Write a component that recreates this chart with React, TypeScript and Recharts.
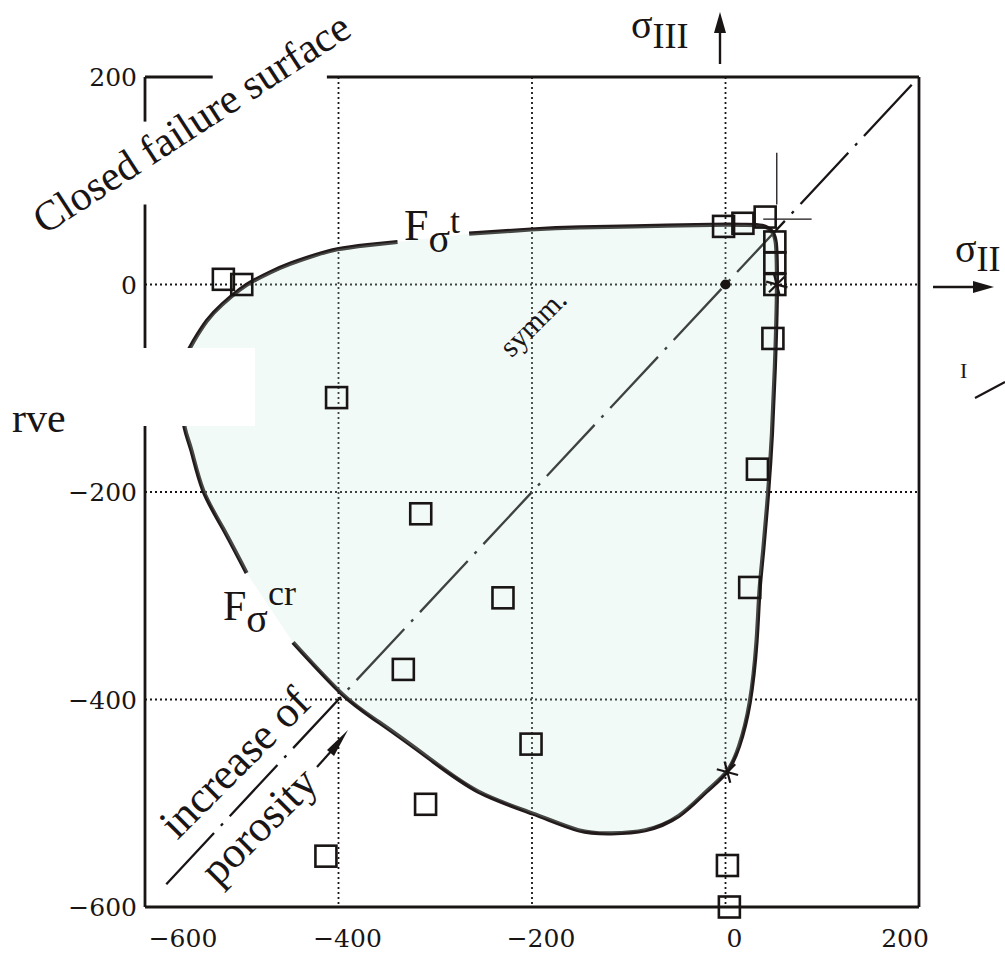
import React from 'react';
import {
  ComposedChart,
  XAxis,
  YAxis,
  CartesianGrid,
  Line,
  Scatter,
  ReferenceLine,
  ReferenceDot,
} from 'recharts';

// ---------- axis / grid values ----------
const xTicks = [-600, -400, -200, 0, 200];
const yTicks = [200, 0, -200, -400, -600];
const gridX = [-400, -200, 0];
const gridY = [0, -200, -400];

// ---------- closed failure surface (two drawn segments, gaps at the labels) ----------
// from the F_sigma^cr label, up the left side and along the top to the F_sigma^t label
const surfaceLeftTop = [
  { x: -495, y: -278 },
  { x: -520, y: -234 },
  { x: -540, y: -198 },
  { x: -552, y: -160 },
  { x: -559, y: -138 },
  { x: -563, y: -110 },
  { x: -563, y: -88 },
  { x: -557, y: -68 },
  { x: -550, y: -55 },
  { x: -536, y: -35 },
  { x: -520, y: -19 },
  { x: -502, y: -5 },
  { x: -489, y: 3 },
  { x: -470, y: 12 },
  { x: -450, y: 20 },
  { x: -425, y: 28 },
  { x: -401, y: 34 },
  { x: -370, y: 38 },
  { x: -339, y: 41 },
];

// from the F_sigma^t label along the top, round the corner, down the right side and along the bottom
const surfaceRightBottom = [
  { x: -265, y: 49 },
  { x: -201, y: 53 },
  { x: -150, y: 55 },
  { x: -94, y: 56 },
  { x: -15, y: 57.5 },
  { x: 20, y: 57.5 },
  { x: 38, y: 56.5 },
  { x: 48, y: 51 },
  { x: 52, y: 40 },
  { x: 53, y: 20 },
  { x: 53, y: -16 },
  { x: 51, y: -80 },
  { x: 48, y: -144 },
  { x: 44, y: -201 },
  { x: 39, y: -256 },
  { x: 35, y: -297 },
  { x: 32, y: -345 },
  { x: 25, y: -403 },
  { x: 14, y: -445 },
  { x: 1, y: -470 },
  { x: -20, y: -489 },
  { x: -48, y: -512 },
  { x: -83, y: -526 },
  { x: -118, y: -529 },
  { x: -152, y: -526 },
  { x: -199, y: -510 },
  { x: -255, y: -489 },
  { x: -306, y: -457 },
  { x: -358, y: -422 },
  { x: -396, y: -395 },
  { x: -447, y: -345 },
];

const surfaceClosed = [...surfaceRightBottom, ...surfaceLeftTop];

// ---------- experimental points (open squares) ----------
const testPoints = [
  { x: -519, y: 5 },
  { x: -500, y: 0 },
  { x: -402, y: -109 },
  { x: -315, y: -221 },
  { x: -230, y: -302 },
  { x: -333, y: -371 },
  { x: -201, y: -443 },
  { x: -310, y: -501 },
  { x: -413, y: -551 },
  { x: 2, y: -560 },
  { x: 4, y: -600 },
  { x: 25, y: -292 },
  { x: 33, y: -178 },
  { x: 49, y: -52 },
  { x: 51, y: 0 },
  { x: 51, y: 21 },
  { x: 51, y: 41 },
  { x: -2, y: 56 },
  { x: 18, y: 59 },
  { x: 41, y: 65 },
];

// ---------- special points (asterisks) ----------
const starPoints = [
  { x: 2, y: -470 },
  { x: 53, y: 0 },
];

// ---------- symmetry axis ----------
const symmLine = [
  { x: -578, y: -578 },
  { x: 200, y: 200 },
];

const INK = '#1a1515';
const CURVE = '#231b1b';
const SERIF = 'Liberation Serif, DejaVu Serif, serif';
const TICKFONT = 'DejaVu Serif, serif';

const fmt = (v: number) => (v < 0 ? '\u2212' + Math.abs(v) : String(v));

const XTick = (props: any) => {
  const { x, y, payload, index } = props;
  const shift = index === 0 ? 38 : index === xTicks.length - 1 ? -14 : 9;
  return (
    <text x={x + shift} y={y} dy="0.71em" textAnchor="middle" fontFamily={TICKFONT} fontSize={25} fill={INK}>
      {fmt(payload.value)}
    </text>
  );
};

const YTick = (props: any) => {
  const { x, y, payload } = props;
  return (
    <text x={x} y={y} dy="0.36em" textAnchor="end" fontFamily={TICKFONT} fontSize={25} fill={INK}>
      {fmt(payload.value)}
    </text>
  );
};

const SquareShape = (props: any) => {
  const { cx, cy } = props;
  if (cx == null || cy == null) return <g />;
  return <rect x={cx - 10.5} y={cy - 10.5} width={21} height={21} fill="none" stroke={INK} strokeWidth={2.6} />;
};

const StarShape = (props: any) => {
  const { cx, cy } = props;
  if (cx == null || cy == null) return <g />;
  const r = 11;
  const angles = [15, 75, 135];
  return (
    <g stroke={INK} strokeWidth={2.2}>
      {angles.map((a) => {
        const dx = r * Math.cos((a * Math.PI) / 180);
        const dy = r * Math.sin((a * Math.PI) / 180);
        return <line key={a} x1={cx - dx} y1={cy - dy} x2={cx + dx} y2={cy + dy} />;
      })}
    </g>
  );
};

const NoShape = () => <g />;

const FillPolygon = (props: any) => {
  const pts = (props.points || []) as { x: number; y: number }[];
  return (
    <polygon
      points={pts.map((p) => `${p.x},${p.y}`).join(' ')}
      fill="#c4eadc"
      fillOpacity={0.22}
      stroke="none"
    />
  );
};

const borderStyle = { stroke: INK, strokeWidth: 2.8 };

export default function App() {
  return (
    <div style={{ position: 'absolute', left: 0, top: 0, width: 1005, height: 957, background: '#fff' }}>
      <ComposedChart
        width={1005}
        height={957}
        margin={{ top: 77, right: 86, bottom: 10, left: 65 }}
      >
        <CartesianGrid
          stroke={INK}
          strokeWidth={1.8}
          strokeDasharray="2 3"
          verticalValues={gridX}
          horizontalValues={gridY}
        />
        <XAxis
          type="number"
          dataKey="x"
          domain={[-600, 200]}
          ticks={xTicks}
          axisLine={false}
          tickLine={false}
          tickMargin={16}
          height={40}
          tick={<XTick />}
          interval={0}
        />
        <YAxis
          type="number"
          dataKey="y"
          domain={[-600, 200]}
          ticks={yTicks}
          axisLine={false}
          tickLine={false}
          width={80}
          tick={<YTick />}
          interval={0}
        />

        <Scatter data={surfaceClosed} shape={NoShape} line={FillPolygon} lineType="joint" isAnimationActive={false} />

        {/* plot frame (with the gaps of the scanned original) */}
        <ReferenceLine segment={[{ x: -600, y: 200 }, { x: -530, y: 200 }]} {...borderStyle} ifOverflow="visible" />
        <ReferenceLine segment={[{ x: -412, y: 200 }, { x: 200, y: 200 }]} {...borderStyle} ifOverflow="visible" />
        <ReferenceLine segment={[{ x: 200, y: 200 }, { x: 200, y: -600 }]} {...borderStyle} ifOverflow="visible" />
        <ReferenceLine segment={[{ x: -600, y: -600 }, { x: 200, y: -600 }]} {...borderStyle} ifOverflow="visible" />
        <ReferenceLine segment={[{ x: -600, y: 200 }, { x: -600, y: 157 }]} {...borderStyle} ifOverflow="visible" />
        <ReferenceLine segment={[{ x: -600, y: 77 }, { x: -600, y: -600 }]} {...borderStyle} ifOverflow="visible" />

        {/* symmetry axis */}
        <ReferenceLine
          segment={symmLine}
          stroke={INK}
          strokeWidth={2.3}
          strokeDasharray="70 10 3 10"
          ifOverflow="visible"
        />

        {/* thin cross-hair at the corner */}
        <ReferenceLine segment={[{ x: 53, y: 127 }, { x: 53, y: 77 }]} stroke={INK} strokeWidth={1.3} />
        <ReferenceLine segment={[{ x: 39, y: 63 }, { x: 89, y: 63 }]} stroke={INK} strokeWidth={1.3} />

        <Line
          data={surfaceLeftTop}
          dataKey="y"
          type="natural"
          stroke={CURVE}
          strokeWidth={4.2}
          strokeLinejoin="round"
          dot={false}
          activeDot={false}
          isAnimationActive={false}
        />
        <Line
          data={surfaceRightBottom}
          dataKey="y"
          type="natural"
          stroke={CURVE}
          strokeWidth={4.2}
          strokeLinejoin="round"
          dot={false}
          activeDot={false}
          isAnimationActive={false}
        />

        <Scatter data={testPoints} shape={SquareShape} isAnimationActive={false} />
        <Scatter data={starPoints} shape={StarShape} isAnimationActive={false} />
        <ReferenceDot x={0} y={0} r={5} fill={INK} stroke="none" />
      </ComposedChart>

      <svg
        width={1005}
        height={957}
        style={{ position: 'absolute', left: 0, top: 0, pointerEvents: 'none' }}
      >
        {/* white patch of the scanned original */}
        <rect x={138} y={348} width={117} height={78} fill="#fff" />
        <text x={12} y={432} fontFamily={SERIF} fontSize={42} fill={INK}>rve</text>

        <text
          transform="translate(199,135) rotate(-33)"
          textAnchor="middle"
          fontFamily={SERIF}
          fontSize={42}
          fill={INK}
        >
          Closed failure surface
        </text>

        {/* sigma III axis */}
        <text x={631} y={38} fontFamily={SERIF} fontSize={40} fill={INK}>
          σ<tspan dy={10} fontSize={36}>III</tspan>
        </text>
        <line x1={720} y1={64} x2={720} y2={28} stroke={INK} strokeWidth={2.4} />
        <polygon points="720,12 714,33 726,33" fill={INK} />

        {/* sigma II axis */}
        <text x={955} y={262} fontFamily={SERIF} fontSize={40} fill={INK}>
          σ<tspan dy={9} fontSize={36}>II</tspan>
        </text>
        <line x1={933} y1={287} x2={976} y2={287} stroke={INK} strokeWidth={2.4} />
        <polygon points="994,287 973,281 973,293" fill={INK} />

        {/* sigma I axis (cut) */}
        <text x={960} y={378} fontFamily={SERIF} fontSize={22} fill={INK}>I</text>
        <line x1={975} y1={398} x2={1005} y2={382} stroke={INK} strokeWidth={2} />

        {/* curve labels */}
        <text x={404} y={240} fontFamily={SERIF} fontSize={44} fill={INK}>
          F<tspan dy={12} fontSize={40}>σ</tspan>
          <tspan dy={-19} fontSize={36}>t</tspan>
        </text>
        <text x={223} y={620} fontFamily={SERIF} fontSize={42} fill={INK}>
          F<tspan dy={12} fontSize={40}>σ</tspan>
          <tspan dy={-27} fontSize={36}>cr</tspan>
        </text>

        <text
          transform="translate(540,330) rotate(-45)"
          textAnchor="middle"
          fontFamily={SERIF}
          fontSize={30}
          fill={INK}
        >
          symm.
        </text>

        {/* increase of porosity */}
        <text
          transform="translate(245,773) rotate(-45)"
          textAnchor="middle"
          fontFamily={SERIF}
          fontSize={44}
          fill={INK}
          stroke="#fff"
          strokeWidth={7}
          paintOrder="stroke"
        >
          increase of
        </text>
        <text
          transform="translate(269,836) rotate(-45)"
          textAnchor="middle"
          fontFamily={SERIF}
          fontSize={44}
          fill={INK}
          stroke="#fff"
          strokeWidth={7}
          paintOrder="stroke"
        >
          porosity
        </text>
        <line x1={317} y1={767} x2={334} y2={748} stroke={INK} strokeWidth={2.2} />
        <polygon points="348,730 327,750 334,756" fill={INK} />
      </svg>
    </div>
  );
}
